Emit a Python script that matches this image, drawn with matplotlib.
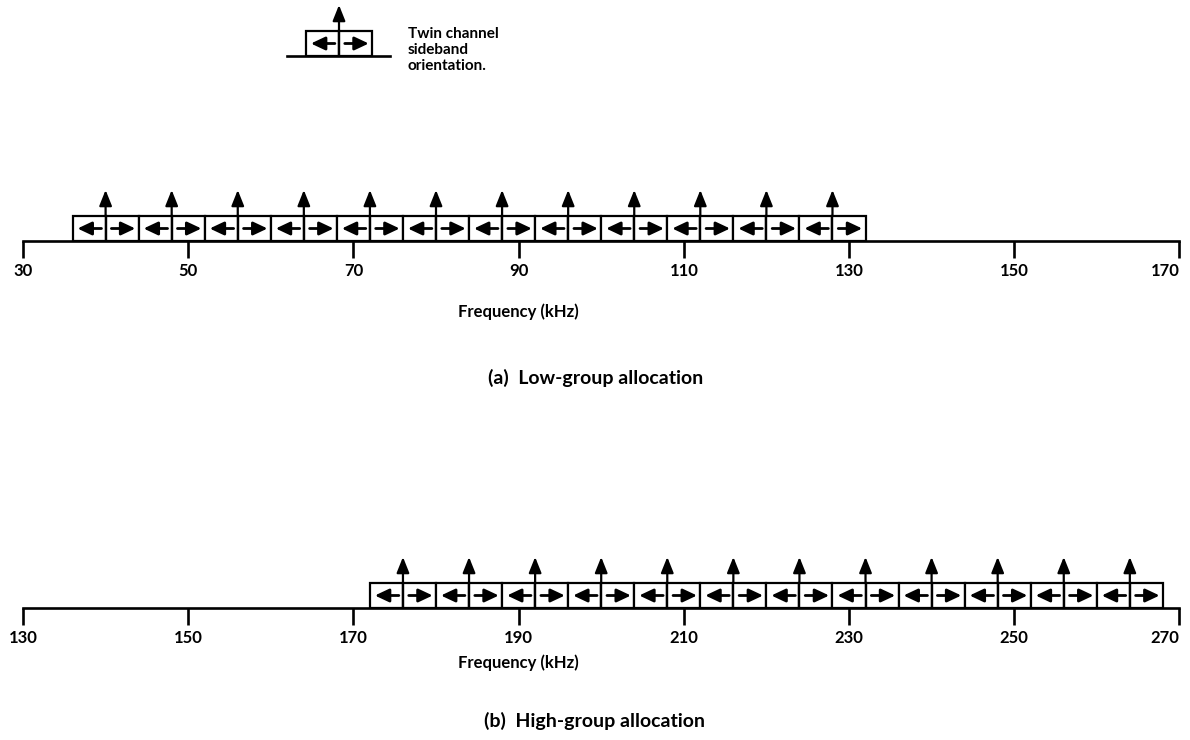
import matplotlib
matplotlib.use("Agg")
import matplotlib.pyplot as plt
from matplotlib.patches import Rectangle, FancyArrowPatch

plt.rcParams['font.family'] = ['Lato', 'DejaVu Sans']
plt.rcParams['font.weight'] = 'bold'

# data (kHz)
low_ticks = [30, 50, 70, 90, 110, 130, 150, 170]
high_ticks = [130, 150, 170, 190, 210, 230, 250, 270]
low_carriers = [40, 48, 56, 64, 72, 80, 88, 96, 104, 112, 120, 128]
high_carriers = [176, 184, 192, 200, 208, 216, 224, 232, 240, 248, 256, 264]
legend_carrier = [4]
sideband = 4  # width of each sideband either side of the carrier

freq_label = "Frequency (kHz)"
legend_text = "Twin channel\nsideband\norientation."
captions = ["(a)  Low-group allocation", "(b)  High-group allocation"]

W, H = 1190, 740
PX_PER_KHZ = 8.26
fig = plt.figure(figsize=(W / 100, H / 100), dpi=100)


def px_axes(left, base, width, height=60):
    # axes placed in pixels, base = baseline distance from the top
    return fig.add_axes([left / W, 1 - base / H, width / W, height / H])


def arrow(ax, start, end, hl=0.85, hw=0.32, lw=1.6):
    ax.add_patch(FancyArrowPatch(start, end,
                                 arrowstyle=f'-|>,head_length={hl},head_width={hw}',
                                 mutation_scale=10, lw=lw, color='black',
                                 shrinkA=0, shrinkB=0, clip_on=False, zorder=3))


def draw_group(ax, carriers, ticks, xlim):
    ax.set_xlim(xlim)
    ax.set_ylim(0, 60)
    for c in carriers:
        # lower sideband (inverted) and upper sideband (erect)
        for lo, tail, tip in [(c - sideband, c - 0.5, c - sideband + 0.6),
                              (c, c + 0.7, c + sideband - 0.4)]:
            ax.add_patch(Rectangle((lo, 0), sideband, 25, fc='white', ec='black',
                                   lw=1.6, zorder=2))
            arrow(ax, (tail, 12.5), (tip, 12.5), hl=0.85, hw=0.4, lw=2)
        arrow(ax, (c, 25), (c, 51), hl=0.95, hw=0.38)
        ax.plot([c, c], [0, 25], color='black', lw=1.6, zorder=3)
    ax.set_xticks(ticks)
    ax.set_yticks([])
    ax.tick_params(axis='x', direction='out', length=12, width=1.9, pad=4,
                   labelsize=12)
    if ticks:
        ax.get_xticklabels()[-1].set_horizontalalignment('right')
        ax.get_xticklabels()[-1].set_x(ticks[-1] + 0.4)
    for s in ['top', 'left', 'right']:
        ax.spines[s].set_visible(False)
    ax.spines['bottom'].set_linewidth(1.9)
    ax.patch.set_visible(False)


span = low_ticks[-1] - low_ticks[0]
ax_low = px_axes(23, 241, span * PX_PER_KHZ)
draw_group(ax_low, low_carriers, low_ticks, (low_ticks[0], low_ticks[-1]))

ax_high = px_axes(23, 608, span * PX_PER_KHZ)
draw_group(ax_high, high_carriers, high_ticks, (high_ticks[0], high_ticks[-1]))

# key: same kHz scale as the main axes
key_w = 103
key_lo = legend_carrier[0] - 52 / PX_PER_KHZ
ax_key = px_axes(287, 56, key_w)
draw_group(ax_key, legend_carrier, [], (key_lo, key_lo + key_w / PX_PER_KHZ))

fig.text(408 / W, 1 - 27 / H, legend_text, ha='left', va='top', fontsize=11,
         linespacing=1.2)

fig.text(518 / W, 1 - 312 / H, freq_label, ha='center', va='center', fontsize=12)
fig.text(518 / W, 1 - 663 / H, freq_label, ha='center', va='center', fontsize=12)
fig.text(596 / W, 1 - 378 / H, captions[0], ha='center', va='center', fontsize=14)
fig.text(594 / W, 1 - 721 / H, captions[1], ha='center', va='center', fontsize=14)

fig.savefig('out.png', dpi=100)
